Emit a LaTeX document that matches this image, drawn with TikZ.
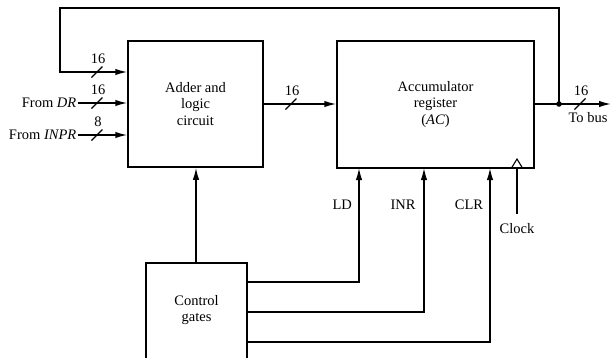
\documentclass[tikz,border=0pt]{standalone}
\usepackage{fontspec}
\setmainfont{Liberation Serif}
\usetikzlibrary{arrows.meta}
\begin{document}
\begin{tikzpicture}[x=1pt,y=-1pt,line width=1.5pt,
  every node/.style={font=\fontsize{14.5}{16.5}\selectfont},
  box/.style={draw,rectangle,inner sep=0pt,align=center},
  arr/.style={-{Latex[length=12pt,width=6.5pt]}},
  bus/.pic={\draw[line width=1.1pt] (-5.5,5.5)--(5.5,-5.5); \node at (1,-13) {#1};}]
\useasboundingbox (0,0) rectangle (611,357);
% blocks
\node[box,minimum width=135pt,minimum height=126pt] (adder) at (195.5,104) {Adder and\\logic\\circuit};
\node[box,minimum width=197pt,minimum height=127pt] (ac) at (435.5,104.5) {Accumulator\\register\\(\textit{AC})};
\node[align=center] (ctrl) at (196.5,310) {Control\\gates};
\draw (146,360) -- (146,263) -- (247,263) -- (247,360);
% inputs
\coordinate (fbl) at (60,72);
\coordinate (dr) at (78,103);
\coordinate (inpr) at (78,135);
\node[anchor=east,inner sep=1pt] (drl) at (dr) {From \textit{DR}};
\node[anchor=east,inner sep=1pt] (inprl) at (inpr) {From \textit{INPR}};
\draw[arr] (dr) -- (dr -| adder.west);
\draw[arr] (inpr) -- (inpr -| adder.west);
\pic at (97,72) {bus=16};
\pic at (97,103) {bus=16};
\pic at (97,135) {bus=8};
% adder to AC
\draw[arr] (adder.east |- 0,104) -- (ac.west |- 0,104);
\pic at (291,104) {bus=16};
% output and feedback
\coordinate (tap) at (559,104);
\coordinate (out) at (611,104);
\draw[arr] (ac.east |- tap) -- (out);
\fill (tap) circle (2.8pt);
\pic at (580,104) {bus=16};
\node (tobus) at (588,118) {To bus};
\draw[arr] (tap) -- (559,8) -- (60,8) -- (fbl) -- (fbl -| adder.west);
% control lines
\coordinate (c0) at (196,263);
\draw[arr] (c0) -- (c0 |- adder.south);
\coordinate (cld) at (247,282);
\coordinate (cinr) at (247,312);
\coordinate (cclr) at (247,342);
\draw[arr] (cld) -| (359,168);
\draw[arr] (cinr) -| (424,168);
\draw[arr] (cclr) -| (490,168);
\node[anchor=east] (ld) at (356,205) {LD};
\node (inr) at (403,205) {INR};
\node (clr) at (469,205) {CLR};
% clock
\coordinate (clk) at (517,214);
\draw (clk) -- (517,168);
\draw[line width=1.1pt] (511.5,168) -- (517,159) -- (522.5,168);
\node (clock) at (517,229) {Clock};
\end{tikzpicture}
\end{document}
